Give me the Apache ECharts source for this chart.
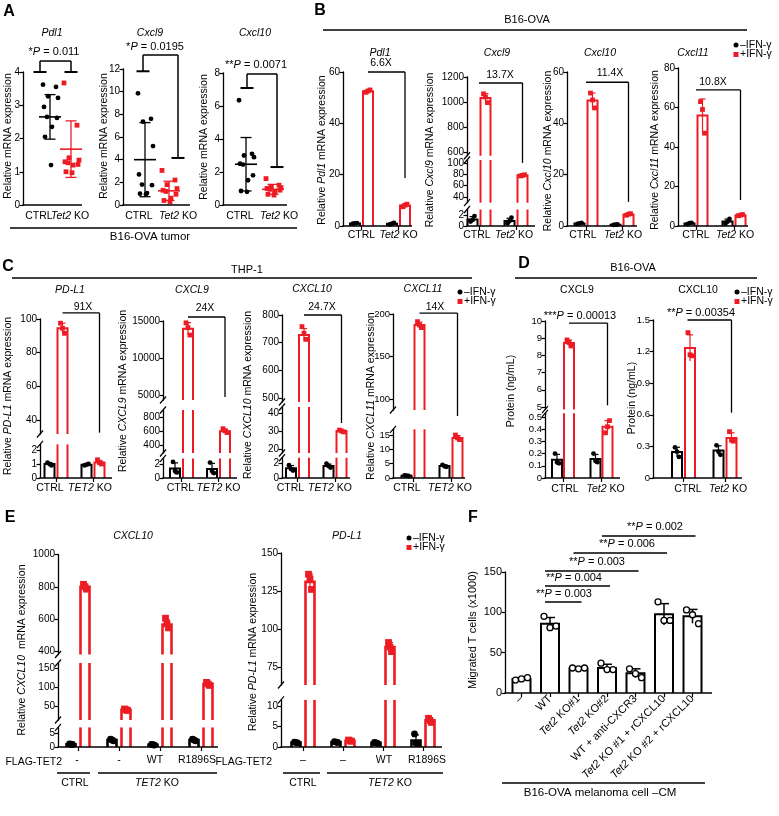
<!DOCTYPE html>
<html><head><meta charset="utf-8"><title>Figure</title>
<script src="https://cdn.jsdelivr.net/npm/echarts@6.0.0/dist/echarts.min.js"></script>
<style>html,body{margin:0;padding:0;background:#fff;}#chart{width:779px;height:816px;}</style>
</head><body><div id="chart"></div>
<script>
// ================= DATA =================
// Panel A (B16-OVA tumor, dots per mouse, mean and SD)
const aCats = ['CTRL', '<i>Tet2</i> KO'];
const aPdl1Ticks = [0, 1, 2, 3, 4];
const aPdl1Ctrl = [3.62, 3.55, 3.27, 3.22, 2.95, 2.65, 2.62, 2.35, 2.05, 1.2];
const aPdl1Ko = [3.67, 2.4, 1.42, 1.35, 1.3, 1.27, 1.22, 1.2, 1.0, 0.97];
const aPdl1Mean = [2.65, 1.68];
const aPdl1Sd = [0.67, 0.85];
const aCxcl9Ticks = [0, 2, 4, 6, 8, 10, 12];
const aCxcl9Ctrl = [9.85, 7.6, 7.35, 5.2, 2.7, 1.8, 1.75, 1.05, 1.0, 0.95];
const aCxcl9Ko = [3.05, 2.2, 1.8, 1.45, 1.3, 1.2, 0.95, 0.6, 0.4, 0.3];
const aCxcl9Mean = [4.0, 1.25];
const aCxcl9Sd = [3.27, 0.85];
const aCxcl10Ticks = [0, 2, 4, 6, 8];
const aCxcl10Ctrl = [6.35, 3.1, 3.0, 2.9, 2.5, 2.45, 1.8, 1.5, 0.85, 0.8];
const aCxcl10Ko = [1.6, 1.2, 1.1, 1.05, 1.0, 0.95, 0.9, 0.8, 0.65, 0.6];
const aCxcl10Mean = [2.47, 0.95];
const aCxcl10Sd = [1.62, 0.3];

// Panel B (B16-OVA, -IFN / +IFN)
const bCats = ['CTRL', '<i>Tet2</i> KO'];
const bPdl1Ticks = [[0, 20, 40, 60]];
const bPdl1Neg = [1.0, 0.9];
const bPdl1Pos = [52.5, 8.0];
const bPdl1NegDots = [[0.9, 1.0, 1.1], [0.6, 0.9, 1.2]];
const bPdl1PosDots = [[52.1, 52.6, 53.0], [7.5, 8.1, 8.5]];
const bCxcl9Ticks = [[0, 2], [40, 60, 80, 100], [600, 800, 1000, 1200]];
const bCxcl9Neg = [1.2, 0.9];
const bCxcl9Pos = [1032, 78];
const bCxcl9NegDots = [[0.8, 1.1, 1.8], [0.5, 0.9, 1.5]];
const bCxcl9PosDots = [[1065, 1040, 995], [77, 78, 79]];
const bCxcl10Ticks = [[0, 20, 40, 60]];
const bCxcl10Neg = [1.0, 0.5];
const bCxcl10Pos = [48.9, 4.5];
const bCxcl10NegDots = [[0.8, 1.0, 1.2], [0.4, 0.5, 0.6]];
const bCxcl10PosDots = [[51.8, 49.1, 46.0], [4.2, 4.6, 4.8]];
const bCxcl11Ticks = [[0, 20, 40, 60, 80]];
const bCxcl11Neg = [1.3, 2.3];
const bCxcl11Pos = [56, 5.5];
const bCxcl11NegDots = [[1.0, 1.4, 1.6], [1.2, 2.2, 3.6]];
const bCxcl11PosDots = [[63, 59, 47], [5.2, 5.5, 5.8]];

// Panel C (THP-1)
const cCats = ['CTRL', '<i>TET2</i> KO'];
const cPdl1Ticks = [[0, 1, 2], [40, 60, 80, 100]];
const cPdl1Neg = [1.0, 0.95];
const cPdl1Pos = [94.5, 1.1];
const cPdl1NegDots = [[1.1, 1.0, 0.9], [0.9, 0.95, 1.0]];
const cPdl1PosDots = [[97.5, 94.5, 91.5], [1.3, 1.1, 1.0]];
const cCxcl9Ticks = [[0, 2], [400, 600, 800], [5000, 10000, 15000]];
const cCxcl9Neg = [1.35, 1.3];
const cCxcl9Pos = [13950, 600];
const cCxcl9NegDots = [[2.3, 1.0, 0.8], [2.2, 1.0, 0.7]];
const cCxcl9PosDots = [[14750, 14100, 13100], [635, 605, 580]];
const cCxcl10Ticks = [[0, 2], [20, 30, 40], [500, 600, 700, 800]];
const cCxcl10Neg = [1.3, 1.6];
const cCxcl10Pos = [728, 30];
const cCxcl10NegDots = [[1.7, 1.2, 1.0], [1.9, 1.6, 1.4]];
const cCxcl10PosDots = [[758, 734, 712], [30.5, 30, 29.5]];
const cCxcl11Ticks = [[0, 5, 10, 15], [100, 150, 200]];
const cCxcl11Neg = [0.8, 4.2];
const cCxcl11Pos = [187, 14];
const cCxcl11NegDots = [[0.9, 0.8, 0.7], [4.6, 4.1, 3.9]];
const cCxcl11PosDots = [[191, 187, 184], [15, 14, 13.4]];

// Panel D (protein, ng/mL)
const dCats = ['CTRL', '<i>Tet2</i> KO'];
const dCxcl9Ticks = [[0, 0.1, 0.2, 0.3, 0.4, 0.5], [5, 6, 7, 8, 9, 10]];
const dCxcl9Neg = [0.15, 0.155];
const dCxcl9Pos = [8.72, 0.42];
const dCxcl9NegDots = [[0.2, 0.13, 0.12], [0.2, 0.14, 0.13]];
const dCxcl9PosDots = [[8.9, 8.75, 8.55], [0.37, 0.42, 0.47]];
const dCxcl10Ticks = [[0, 0.3, 0.6, 0.9, 1.2, 1.5]];
const dCxcl10Neg = [0.247, 0.26];
const dCxcl10Pos = [1.235, 0.38];
const dCxcl10NegDots = [[0.29, 0.25, 0.2], [0.31, 0.25, 0.22]];
const dCxcl10PosDots = [[1.38, 1.17, 1.16], [0.44, 0.36, 0.35]];

// Panel E (FLAG-TET2 rescue)
const eCxcl10Cats = ['-', '-', 'WT', 'R1896S'];
const ePdl1Cats = ['\u2013', '\u2013', 'WT', 'R1896S'];
const eCxcl10Ticks = [[0, 5], [50, 100, 150], [400, 600, 800, 1000]];
const eCxcl10Neg = [1.0, 2.5, 0.8, 2.5];
const eCxcl10Pos = [800, 40, 565, 108];
const eCxcl10NegDots = [[1.1, 1.0, 0.9], [2.8, 2.5, 2.2], [0.9, 0.8, 0.7], [2.8, 2.5, 2.2]];
const eCxcl10PosDots = [[815, 800, 785], [42, 40, 38], [605, 570, 545], [112, 108, 104]];
const ePdl1Ticks = [[0, 5, 10], [75, 100, 125, 150]];
const ePdl1Neg = [1.1, 1.2, 1.0, 1.6];
const ePdl1Pos = [131, 1.5, 88, 6.5];
const ePdl1NegDots = [[1.2, 1.1, 1.0], [1.3, 1.2, 1.1], [1.1, 1.0, 0.9], [3.2, 0.9, 0.8]];
const ePdl1PosDots = [[136, 133, 126], [1.7, 1.5, 1.4], [91, 88, 85], [7.0, 6.5, 6.0]];

// Panel F (migrated T cells x1000)
const fCats = ['\u2013', 'WT', '<i>Tet2</i> KO#1', '<i>Tet2</i> KO#2', 'WT + anti-CXCR3',
  '<i>Tet2</i> KO #1 + rCXCL10', '<i>Tet2</i> KO #2 + rCXCL10'];
const fTicks = [[0, 50, 100, 150]];
const fMean = [17.5, 86, 30.5, 31, 24.5, 97.5, 95];
const fDots = [[16, 17.5, 19], [95, 81, 83], [31, 30, 31], [37, 29, 29], [30, 24, 19], [113, 90, 90], [103, 97, 86]];

// ================= STYLE / HELPERS =================
const FONT = '"Liberation Sans", Arial, Helvetica, sans-serif';
const RED = '#ed1c24';
const BLACK = '#000';

function sdOf(a) {
  const n = a.length, m = a.reduce((s, v) => s + v, 0) / n;
  return Math.sqrt(a.reduce((s, v) => s + (v - m) * (v - m), 0) / (n - 1));
}
function parseMarkup(s) {
  const out = []; const re = /<(i|r|b)>(.*?)<\/\1>|([^<]+)/g; let m;
  while ((m = re.exec(s))) {
    if (m[3] !== undefined) out.push({ t: m[3] }); else { const f = { t: m[2] }; f[m[1]] = true; out.push(f); }
  }
  return out;
}
let richCounter = 0;
function richOf(markup, size, o) {
  o = o || {};
  const frags = parseMarkup(markup); const rich = {};
  const text = frags.map((f, k) => {
    const key = 'q' + (richCounter++);
    const st = { fontFamily: FONT, fontSize: size, color: f.r ? RED : (o.color || '#000'),
      fontStyle: (f.i || o.italic) ? 'italic' : 'normal', fontWeight: (f.b || o.bold) ? 'bold' : 'normal' };
    const pl = (o.padL && k === 0) ? o.padL : 0, pr = (o.padR && k === frags.length - 1) ? o.padR : 0;
    if (pl || pr) st.padding = [0, pr, 0, pl];
    rich[key] = st;
    return '{' + key + '|' + f.t + '}';
  }).join('');
  return { text, rich };
}
function T(x, y, markup, size, o) {
  o = o || {};
  const r = richOf(markup, size, o);
  return { type: 'text', x, y, rotation: o.rot || 0, z: 50, silent: true,
    style: { text: r.text, rich: r.rich, x: 0, y: 0, fontFamily: FONT, fontSize: size,
      align: o.align || 'center', verticalAlign: o.va || 'middle',
      textAlign: o.align || 'center', textVerticalAlign: o.va || 'middle' } };
}
function Ln(x1, y1, x2, y2, lw, c) {
  return { type: 'line', z: 50, silent: true, shape: { x1, y1, x2, y2 }, style: { stroke: c || '#000', lineWidth: lw || 1.3 } };
}
function cond2(neg, pos, negDots, posDots, off) {
  return [{ mean: neg, dots: negDots, color: BLACK, shape: 'circle', off: -off },
          { mean: pos, dots: posDots, color: RED, shape: 'square', off: off }];
}

// ================= LAYOUT (pixel placement of each plot) =================
const BAR = { kind: 'bar', barW: 10, lw: 2, elw: 1.2, capW: 6, dotR: 2.4, jit: [-2, 0, 2], labelMargin: 5, catFont: 10.5, tickFont: 10 };
const SUBPLOTS = [
  // A
  { kind: 'A', cats: aCats, shift: [-11, -1], axisX: 23, axisEnd: 82, cx0: 50, band: 21, labelMargin: 6, xTicks: false, catFont: 10.5, tickFont: 10,
    segs: [{ y0: 205, y1: 72, min: 0, max: 4 }], ticks: [aPdl1Ticks], dots: [aPdl1Ctrl, aPdl1Ko], mean: aPdl1Mean, sd: aPdl1Sd, dotR: 2.4, jit: [-7, 6, -2, 8, -6, -3, 7, 2, -5, 1] },
  { kind: 'A', cats: aCats, shift: [-6, 9], axisX: 123, axisEnd: 190, cx0: 145, band: 24, labelMargin: 6, xTicks: false, catFont: 10.5, tickFont: 10,
    segs: [{ y0: 205, y1: 69, min: 0, max: 12 }], ticks: [aCxcl9Ticks], dots: [aCxcl9Ctrl, aCxcl9Ko], mean: aCxcl9Mean, sd: aCxcl9Sd, dotR: 2.4, jit: [-7, 6, -2, 8, -6, -3, 7, 2, -5, 1] },
  { kind: 'A', cats: aCats, shift: [-6, 6], axisX: 223, axisEnd: 287, cx0: 246, band: 27, labelMargin: 6, xTicks: false, catFont: 10.5, tickFont: 10,
    segs: [{ y0: 205, y1: 73, min: 0, max: 8 }], ticks: [aCxcl10Ticks], dots: [aCxcl10Ctrl, aCxcl10Ko], mean: aCxcl10Mean, sd: aCxcl10Sd, dotR: 2.4, jit: [-7, 6, -2, 8, -6, -3, 7, 2, -5, 1] },
  // B
  Object.assign({}, BAR, { cats: bCats, shift: [0, 0], axisX: 343, axisEnd: 412, cx0: 361.5, band: 37, labelMargin: 4,
    segs: [{ y0: 226, y1: 72, min: 0, max: 60 }], ticks: bPdl1Ticks, conds: cond2(bPdl1Neg, bPdl1Pos, bPdl1NegDots, bPdl1PosDots, 6.5) }),
  Object.assign({}, BAR, { cats: bCats, shift: [-2, -2], axisX: 467, axisEnd: 535, cx0: 479, band: 37, labelMargin: 4,
    segs: [{ y0: 226, y1: 209.5, min: 0, max: 3 }, { y0: 202.7, y1: 160, min: 30, max: 105 }, { y0: 155.75, y1: 77, min: 570, max: 1200 }],
    ticks: bCxcl9Ticks, conds: cond2(bCxcl9Neg, bCxcl9Pos, bCxcl9NegDots, bCxcl9PosDots, 6.5) }),
  Object.assign({}, BAR, { cats: bCats, shift: [-3, 1], axisX: 567, axisEnd: 637, cx0: 586, band: 36, labelMargin: 4,
    segs: [{ y0: 226, y1: 72, min: 0, max: 60 }], ticks: bCxcl10Ticks, conds: cond2(bCxcl10Neg, bCxcl10Pos, bCxcl10NegDots, bCxcl10PosDots, 6.5) }),
  Object.assign({}, BAR, { cats: bCats, shift: [0, 1], axisX: 678, axisEnd: 748, cx0: 696, band: 38, labelMargin: 4,
    segs: [{ y0: 226, y1: 68, min: 0, max: 80 }], ticks: bCxcl11Ticks, conds: cond2(bCxcl11Neg, bCxcl11Pos, bCxcl11NegDots, bCxcl11PosDots, 6.5) }),
  // C
  Object.assign({}, BAR, { cats: cCats, shift: [-6, -3], axisX: 40, axisEnd: 112, cx0: 56, band: 37,
    segs: [{ y0: 478, y1: 444.4, min: 0, max: 2.4 }, { y0: 434, y1: 319, min: 31.7, max: 100 }],
    ticks: cPdl1Ticks, conds: cond2(cPdl1Neg, cPdl1Pos, cPdl1NegDots, cPdl1PosDots, 6.5) }),
  Object.assign({}, BAR, { cats: cCats, shift: [-1, 0], axisX: 163, axisEnd: 237, cx0: 181.5, band: 37,
    segs: [{ y0: 478, y1: 458.4, min: 0, max: 2.8 }, { y0: 453, y1: 410, min: 290, max: 900 }, { y0: 400, y1: 321, min: 4300, max: 15000 }],
    ticks: cCxcl9Ticks, conds: cond2(cCxcl9Neg, cCxcl9Pos, cCxcl9NegDots, cCxcl9PosDots, 6.5) }),
  Object.assign({}, BAR, { cats: cCats, shift: [-7, -5], axisX: 282, axisEnd: 350, cx0: 297.5, band: 37.5,
    segs: [{ y0: 478, y1: 457.75, min: 0, max: 2.7 }, { y0: 453, y1: 407, min: 17.8, max: 43.3 }, { y0: 402, y1: 315, min: 485.5, max: 800 }],
    ticks: cCxcl10Ticks, conds: cond2(cCxcl10Neg, cCxcl10Pos, cCxcl10NegDots, cCxcl10PosDots, 6.5) }),
  Object.assign({}, BAR, { cats: cCats, shift: [-6, -1], axisX: 393, axisEnd: 465, cx0: 413, band: 38, tickFont: 9.5,
    segs: [{ y0: 478, y1: 429.3, min: 0, max: 17 }, { y0: 410, y1: 314, min: 87, max: 200 }],
    ticks: cCxcl11Ticks, conds: cond2(cCxcl11Neg, cCxcl11Pos, cCxcl11NegDots, cCxcl11PosDots, 6.5) }),
  // D
  Object.assign({}, BAR, { cats: dCats, shift: [2, 4], axisX: 545, axisEnd: 620, cx0: 563, band: 38.5, labelMargin: 6, tickFont: 9.5,
    segs: [{ y0: 478, y1: 413.3, min: 0, max: 0.53 }, { y0: 409.6, y1: 321, min: 4.85, max: 10 }],
    ticks: dCxcl9Ticks, conds: cond2(dCxcl9Neg, dCxcl9Pos, dCxcl9NegDots, dCxcl9PosDots, 6) }),
  Object.assign({}, BAR, { cats: dCats, shift: [4.5, 3], axisX: 653, axisEnd: 742, cx0: 683.5, band: 41.5, labelMargin: 6, tickFont: 9.5,
    segs: [{ y0: 478, y1: 320, min: 0, max: 1.5 }], ticks: dCxcl10Ticks, conds: cond2(dCxcl10Neg, dCxcl10Pos, dCxcl10NegDots, dCxcl10PosDots, 6.5) }),
  // E
  Object.assign({}, BAR, { cats: eCxcl10Cats, shift: [-1, 0, -5, -4], axisX: 58, axisEnd: 218, cx0: 78, band: 41, labelMargin: 8,
    barW: 9, lw: 2.6, dotR: 3.4, jit: [-1.5, 0, 1.5],
    segs: [{ y0: 747, y1: 727.4, min: 0, max: 7 }, { y0: 720, y1: 663, min: 13, max: 163 }, { y0: 654.5, y1: 554.5, min: 380, max: 1000 }],
    ticks: eCxcl10Ticks, conds: cond2(eCxcl10Neg, eCxcl10Pos, eCxcl10NegDots, eCxcl10PosDots, 7) }),
  Object.assign({}, BAR, { cats: ePdl1Cats, shift: [0, 0, 1, 4], axisX: 281, axisEnd: 442, cx0: 303, band: 40, labelMargin: 8,
    barW: 9, lw: 2.6, dotR: 3.4, jit: [-1.5, 0, 1.5],
    segs: [{ y0: 747, y1: 699.9, min: 0, max: 11.5 }, { y0: 685, y1: 553, min: 63, max: 150 }],
    ticks: ePdl1Ticks, conds: cond2(ePdl1Neg, ePdl1Pos, ePdl1NegDots, ePdl1PosDots, 7) }),
  // F
  Object.assign({}, BAR, { cats: fCats, shift: null, rotate: 45, axisX: 505, axisEnd: 712, cx0: 521.5, band: 28.5, labelMargin: 4,
    barW: 18, lw: 2, elw: 1.5, capW: 10, dotR: 3, jit: [-6, 0, 6], catFont: 11, tickFont: 11,
    segs: [{ y0: 693, y1: 572, min: 0, max: 150 }], ticks: fTicks,
    conds: [{ mean: fMean, dots: fDots, color: BLACK, shape: 'open', off: 0 }] })
];

// ================= RENDERERS =================
function barRender(sp, seg) {
  return function (params, api) {
    const cat = api.value(0), v = api.value(1), sd = api.value(2), k = api.value(3);
    const c = sp.conds[k];
    if (v <= seg.min) return null;
    const base = api.coord([cat, seg.min]);
    const x = base[0] + c.off, w = sp.barW / 2;
    const top = api.coord([cat, Math.min(v, seg.max)])[1];
    const st = { stroke: c.color, lineWidth: sp.lw, fill: 'none' };
    const kids = [];
    if (v <= seg.max) {
      kids.push({ type: 'polyline', shape: { points: [[x - w, base[1]], [x - w, top], [x + w, top], [x + w, base[1]]] }, style: st });
    } else {
      kids.push({ type: 'line', shape: { x1: x - w, y1: base[1], x2: x - w, y2: top }, style: st });
      kids.push({ type: 'line', shape: { x1: x + w, y1: base[1], x2: x + w, y2: top }, style: st });
    }
    const hi = v + sd, lo = v - sd;
    const eHi = Math.min(hi, seg.max), eLo = Math.max(lo, seg.min);
    if (eHi > eLo) {
      const y1 = api.coord([cat, eHi])[1], y2 = api.coord([cat, eLo])[1];
      const es = { stroke: c.color, lineWidth: sp.elw };
      kids.push({ type: 'line', shape: { x1: x, y1: y1, x2: x, y2: y2 }, style: es });
      if (hi <= seg.max) kids.push({ type: 'line', shape: { x1: x - sp.capW / 2, y1: y1, x2: x + sp.capW / 2, y2: y1 }, style: es });
    }
    return { type: 'group', children: kids };
  };
}
function dotRender(sp, seg) {
  return function (params, api) {
    const cat = api.value(0), v = api.value(1), k = api.value(2), j = api.value(3);
    if (v < seg.min || v > seg.max) return null;
    const c = sp.conds[k], p = api.coord([cat, v]);
    const x = p[0] + c.off + sp.jit[j % sp.jit.length], r = sp.dotR;
    if (c.shape === 'square') return { type: 'rect', shape: { x: x - r, y: p[1] - r, width: 2 * r, height: 2 * r }, style: { fill: c.color } };
    if (c.shape === 'open') return { type: 'circle', shape: { cx: x, cy: p[1], r: r }, style: { fill: '#fff', stroke: c.color, lineWidth: 1.3 } };
    return { type: 'circle', shape: { cx: x, cy: p[1], r: r }, style: { fill: c.color } };
  };
}
function aDotRender(sp) {
  return function (params, api) {
    const cat = api.value(0), v = api.value(1), j = api.value(2);
    const p = api.coord([cat, v]);
    const x = p[0] + sp.jit[j % sp.jit.length], r = sp.dotR;
    if (cat === 0) return { type: 'circle', shape: { cx: x, cy: p[1], r: r }, style: { fill: BLACK } };
    return { type: 'rect', shape: { x: x - r, y: p[1] - r, width: 2 * r, height: 2 * r }, style: { fill: RED } };
  };
}
function aMeanRender(sp) {
  return function (params, api) {
    const cat = api.value(0), m = api.value(1), sd = api.value(2);
    const col = cat === 0 ? BLACK : RED;
    const pm = api.coord([cat, m]), pt = api.coord([cat, m + sd]), pb = api.coord([cat, m - sd]);
    const x = pm[0], st = { stroke: col, lineWidth: 1.3 };
    return { type: 'group', children: [
      { type: 'line', shape: { x1: x - 11, y1: pm[1], x2: x + 11, y2: pm[1] }, style: { stroke: col, lineWidth: 1.6 } },
      { type: 'line', shape: { x1: x, y1: pt[1], x2: x, y2: pb[1] }, style: st },
      { type: 'line', shape: { x1: x - 5.5, y1: pt[1], x2: x + 5.5, y2: pt[1] }, style: st },
      { type: 'line', shape: { x1: x - 5.5, y1: pb[1], x2: x + 5.5, y2: pb[1] }, style: st }] };
  };
}
function cs(gi, render, data, z) {
  return { type: 'custom', xAxisIndex: gi, yAxisIndex: gi, renderItem: render, data: data, z: z, silent: true, animation: false, encode: { x: 0, y: 1 } };
}

// ================= BUILD OPTION =================
const grids = [], xAxes = [], yAxes = [], series = [], gridOf = [];
SUBPLOTS.forEach(function (sp, si) {
  const n = sp.cats.length;
  const gl = sp.cx0 - sp.band / 2, gw = n * sp.band;
  const rich = {};
  const strs = sp.cats.map(function (c, i) {
    const s = (sp.shift && sp.shift[i]) || 0;
    const r = richOf(c, sp.catFont, { padL: s > 0 ? 2 * s : 0, padR: s < 0 ? -2 * s : 0 });
    Object.assign(rich, r.rich); return r.text;
  });
  gridOf[si] = [];
  sp.segs.forEach(function (seg, k) {
    const gi = grids.length; gridOf[si].push(gi);
    grids.push({ left: gl, top: seg.y1, width: gw, height: seg.y0 - seg.y1, containLabel: false, outerBoundsMode: 'none' });
    const bottom = k === 0;
    const xl = { interval: 0, margin: sp.labelMargin, fontSize: sp.catFont, fontFamily: FONT, color: '#000',
      formatter: function (v, i) { return strs[i]; }, rich: rich };
    if (sp.rotate) xl.rotate = sp.rotate;
    xAxes.push({ gridIndex: gi, type: 'category', data: sp.cats.map(function (_, i) { return String(i); }), show: bottom, boundaryGap: true,
      axisLine: { show: false, onZero: false },
      axisTick: { show: sp.xTicks !== false, alignWithLabel: true, interval: 0, length: 4, lineStyle: { color: '#000', width: 1.2 } },
      axisLabel: xl, splitLine: { show: false } });
    const ticks = sp.ticks[k];
    yAxes.push({ gridIndex: gi, type: 'value', min: seg.min, max: seg.max, position: 'left', offset: gl - sp.axisX,
      axisLine: { show: true, onZero: false, lineStyle: { color: '#000', width: 1.3 } },
      axisTick: { show: true, length: 3.5, customValues: ticks, lineStyle: { color: '#000', width: 1.2 } },
      axisLabel: { show: true, customValues: ticks, fontSize: sp.tickFont, fontFamily: FONT, color: '#000', margin: 3,
        formatter: function (v) { return String(v); } },
      splitLine: { show: false } });
    if (sp.kind === 'A') {
      const dItems = [];
      sp.dots.forEach(function (arr, i) { arr.forEach(function (v, j) { dItems.push([i, v, j]); }); });
      const mItems = sp.mean.map(function (m, i) { return [i, m, sp.sd[i]]; });
      series.push(cs(gi, aMeanRender(sp), mItems, 2));
      series.push(cs(gi, aDotRender(sp), dItems, 3));
    } else {
      const bItems = [], dItems = [];
      sp.conds.forEach(function (c, kk) {
        c.mean.forEach(function (m, i) {
          bItems.push([i, m, sdOf(c.dots[i]), kk]);
          c.dots[i].forEach(function (v, j) { dItems.push([i, v, kk, j]); });
        });
      });
      series.push(cs(gi, barRender(sp, seg), bItems, 2));
      series.push(cs(gi, dotRender(sp, seg), dItems, 3));
    }
  });
});

const chart = echarts.init(document.getElementById('chart'), null, { renderer: 'canvas', width: 779, height: 816 });
chart.setOption({ animation: false, backgroundColor: '#fff', grid: grids, xAxis: xAxes, yAxis: yAxes, series: series });

function P(si, k, cat, v) {
  const gi = gridOf[si][k];
  return chart.convertToPixel({ xAxisIndex: gi, yAxisIndex: gi }, [cat, v]);
}

// ================= ANNOTATIONS =================
const G = [];
// x-axis lines and broken-axis marks
SUBPLOTS.forEach(function (sp, si) {
  const y0 = P(si, 0, 0, sp.segs[0].min)[1];
  G.push(Ln(sp.axisX - 0.6, y0, sp.axisEnd, y0, 1.3));
  const last = sp.segs.length - 1;
  sp.segs.forEach(function (seg, k) {
    const ys = [];
    if (k > 0) ys.push(P(si, k, 0, seg.min)[1]);
    if (k < last) ys.push(P(si, k, 0, seg.max)[1]);
    ys.forEach(function (y) { G.push(Ln(sp.axisX - 3, y + 3.5, sp.axisX + 3, y - 3.5, 1.2)); });
  });
});

// Panel A significance brackets: [subplot, top value, legs [cat, dx, end value]]
const aBrackets = [[0, 4.33, [[0, -10, 4.0], [1, 0, 4.0]]], [1, 13.24, [[0, -2, 11.8], [1, 9, 4.15]]], [2, 7.94, [[0, 1, 7.09], [1, 4, 2.3]]]];
aBrackets.forEach(function (b) {
  const si = b[0];
  const ty = P(si, 0, 0, b[1])[1];
  const xs = b[2].map(function (l) { return P(si, 0, l[0], 0)[0] + l[1]; });
  G.push(Ln(xs[0], ty, xs[1], ty, 1.5));
  b[2].forEach(function (l, i) {
    const ey = P(si, 0, l[0], l[2])[1];
    G.push(Ln(xs[i], ty, xs[i], ey, 1.5));
    G.push(Ln(xs[i] - 6.5, ey, xs[i] + 6.5, ey, 2));
  });
});
// Fold-change / P brackets (B, C, D): [subplot, segTop, vTop, segEnd, vEnd, x1 offset, x2 offset]
const foldBrackets = [
  [3, 0, 60, 0, 18.7, 6.5, 6.5], [4, 2, 1152, 1, 100, 0, 6.5], [5, 0, 56, 0, 9.4, 0, 6.5], [6, 0, 68.9, 0, 13.2, 0, 6.5],
  [7, 1, 103.6, 1, 32.5, 6.5, 6.5], [8, 2, 15540, 2, 4700, 6.5, 6.5], [9, 2, 800, 1, 34.4, 6.5, 6.5], [10, 1, 201, 1, 80, 6.5, 6.5],
  [11, 1, 9.88, 1, 5.1, 6, 6], [12, 0, 1.5, 0, 0.62, 4, 6.5]];
foldBrackets.forEach(function (b) {
  const ty = P(b[0], b[1], 0, b[2])[1];
  const ey = P(b[0], b[3], 1, b[4])[1];
  const x1 = P(b[0], 0, 0, 0)[0] + b[5], x2 = P(b[0], 0, 1, 0)[0] + b[6];
  G.push(Ln(x1, ty, x2, ty, 1.3));
  G.push(Ln(x2, ty, x2, ey, 1.3));
});
// Panel F brackets: [value, from bar, to bar]
const fBrackets = [[194.6, 3, 6], [173.5, 2, 5], [151.2, 1, 4], [132.6, 1, 3], [112.8, 1, 2]];
fBrackets.forEach(function (b) {
  const y = P(15, 0, 0, b[0])[1];
  G.push(Ln(P(15, 0, b[1], 0)[0] - 5, y, P(15, 0, b[2], 0)[0] + 3, y, 1.4));
});

// Panel letters
[['A', 9, 12], ['B', 320, 11], ['C', 8, 267], ['D', 524, 264], ['E', 10, 518], ['F', 473, 518]].forEach(function (l) {
  G.push(T(l[1], l[2], l[0], 16, { bold: true }));
});
// Plot titles
[['<i>Pdl1</i>', 52, 33], ['<i>Cxcl9</i>', 150, 33], ['<i>Cxcl10</i>', 255, 33],
 ['<i>Pdl1</i>', 380, 53], ['<i>Cxcl9</i>', 497, 53], ['<i>Cxcl10</i>', 600, 53], ['<i>Cxcl11</i>', 693, 53],
 ['<i>PD-L1</i>', 70, 290], ['<i>CXCL9</i>', 192, 290], ['<i>CXCL10</i>', 312, 289], ['<i>CXCL11</i>', 423, 289],
 ['CXCL9', 577, 290], ['CXCL10', 698, 290], ['<i>CXCL10</i>', 133, 536], ['<i>PD-L1</i>', 347, 536]].forEach(function (t) {
  G.push(T(t[1], t[2], t[0], 10.5));
});
// Y-axis titles
[['Relative mRNA expression', 8, 136], ['Relative mRNA expression', 104, 136], ['Relative mRNA expression', 204, 137],
 ['Relative <i>Pdl1</i> mRNA expression', 322, 150], ['Relative <i>Cxcl9</i> mRNA expression', 430, 150],
 ['Relative <i>Cxcl10</i> mRNA expression', 548, 151], ['Relative <i>Cxcl11</i> mRNA expression', 655, 150],
 ['Relative <i>PD-L1</i> mRNA expression', 8, 396], ['Relative <i>CXCL9</i> mRNA expression', 123, 391],
 ['Relative <i>CXCL10</i> mRNA expression', 248, 395], ['Relative <i>CXCL11</i> mRNA expression', 371, 396],
 ['Protein (ng/mL)', 511, 391], ['Protein (ng/mL)', 632, 398],
 ['Relative <i>CXCL10</i>  mRNA expression', 22, 650], ['Relative <i>PD-L1</i> mRNA expression', 253, 652]].forEach(function (t) {
  G.push(T(t[1], t[2], t[0], 10.5, { rot: Math.PI / 2 }));
});
G.push(T(473, 630, 'Migrated T cells (x1000)', 11, { rot: Math.PI / 2 }));
// Headers
G.push(Ln(10, 228, 297, 228, 1.3)); G.push(T(150, 237, 'B16-OVA tumor', 11.5));
G.push(Ln(323, 30, 747, 30, 1.3)); G.push(T(527, 20, 'B16-OVA', 11));
G.push(Ln(12, 278, 472, 278, 1.3)); G.push(T(247, 270, 'THP-1', 11));
G.push(Ln(515, 278, 757, 278, 1.3)); G.push(T(633, 268, 'B16-OVA', 11));
// Legends
function legend(x, y) {
  G.push({ type: 'circle', z: 50, silent: true, shape: { cx: x, cy: y, r: 2.5 }, style: { fill: BLACK } });
  G.push(T(x + 4, y, '\u2013IFN-\u03b3', 10.5, { align: 'left' }));
  G.push({ type: 'rect', z: 50, silent: true, shape: { x: x - 2.5, y: y + 9.5 - 2.5, width: 5, height: 5 }, style: { fill: RED } });
  G.push(T(x + 4, y + 9.5, '+IFN-\u03b3', 10.5, { align: 'left' }));
}
legend(736, 45); legend(460, 292); legend(737, 292); legend(409, 538);
// Fold-change texts
[['6.6X', 381, 63], ['13.7X', 500, 75], ['11.4X', 610, 73], ['10.8X', 713, 82],
 ['91X', 83, 307], ['24X', 205, 308], ['24.7X', 322, 307], ['14X', 435, 307]].forEach(function (t) {
  G.push(T(t[1], t[2], t[0], 10.5));
});
// P-value texts
[['<r>*</r><i>P</i> = 0.011', 54, 52], ['<r>*</r><i>P</i> = 0.0195', 155, 47], ['<r>**</r><i>P</i> = 0.0071', 256, 65],
 ['<r>***</r><i>P</i> = 0.00013', 580, 316], ['<r>**</r><i>P</i> = 0.00354', 701, 313],
 ['<r>**</r><i>P</i> = 0.002', 655, 527], ['<r>**</r><i>P</i> = 0.006', 627, 544], ['<r>**</r><i>P</i> = 0.003', 597, 562],
 ['<r>**</r><i>P</i> = 0.004', 574, 578], ['<r>**</r><i>P</i> = 0.003', 564, 594]].forEach(function (t) {
  G.push(T(t[1], t[2], t[0], 11));
});
// Panel E group labels
G.push(T(62, 762, 'FLAG-TET2', 10.5, { align: 'right' }));
G.push(Ln(57, 773, 90, 773, 1.3)); G.push(Ln(98, 773, 217, 773, 1.3));
G.push(T(75, 783, 'CTRL', 10.5)); G.push(T(157, 783, '<i>TET2</i> KO', 10.5));
G.push(T(272, 762, 'FLAG-TET2', 10.5, { align: 'right' }));
G.push(Ln(283, 773, 320, 773, 1.3)); G.push(Ln(327, 773, 443, 773, 1.3));
G.push(T(303, 783, 'CTRL', 10.5)); G.push(T(390, 783, '<i>TET2</i> KO', 10.5));
// Panel F caption
G.push(Ln(502, 783, 705, 783, 1.3)); G.push(T(600, 793, 'B16-OVA melanoma cell \u2013CM', 11.5));

chart.setOption({ graphic: { elements: G } });
</script></body></html>
